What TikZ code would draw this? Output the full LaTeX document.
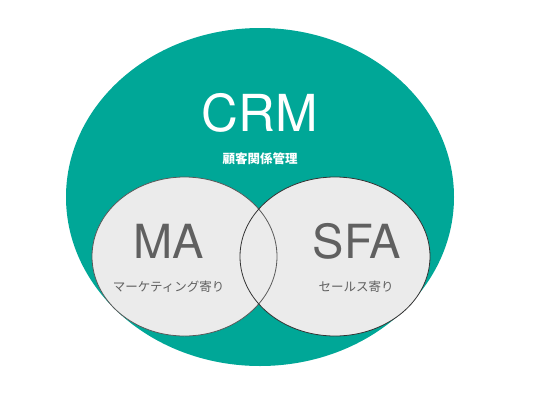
\documentclass[tikz,border=0pt]{standalone}
\usepackage{fontspec}
\setmainfont{TeX Gyre Heros}
\newfontfamily\jpfont{Noto Sans CJK JP}
\usetikzlibrary{shapes.geometric,positioning}

\definecolor{crmteal}{RGB}{0,167,151}
\definecolor{subgray}{RGB}{235,235,235}
\definecolor{labelgray}{RGB}{96,96,96}

\tikzset{
  sub/.style={ellipse, fill=subgray, inner sep=0pt, minimum width=#1},
  rim/.style={draw=black!80, line width=0.8pt},
  big/.style={font=\fontsize{47}{47}\selectfont, text=labelgray, inner sep=0pt},
  note/.style={font=\jpfont\fontsize{12.5}{13}\selectfont, text=labelgray, inner sep=0pt}
}

\begin{document}
\begin{tikzpicture}[x=1pt, y=-1pt]
\useasboundingbox (0,0) rectangle (533,402);

% outer set
\node[ellipse, fill=crmteal, inner sep=0pt, minimum width=388pt, minimum height=338pt] (crm) at (260,197) {};
\node[font=\fontsize{51}{51}\selectfont, text=white, inner sep=0pt] (crmtitle) at (260,112.5) {CRM};
\node[below = 20pt of crmtitle, font=\jpfont\bfseries\fontsize{12.5}{13}\selectfont, text=white, inner sep=0pt] (crmnote) {顧客関係管理};

% two inner sets
\node[sub=185pt, minimum height=159pt] (ma) at (184.5,256.5) {};
\node[sub=190pt, minimum height=159pt] (sfa) at (335,256.5) {};
\draw[rim, draw=black!65] (ma.center) ellipse [x radius=92.5pt, y radius=79.5pt];
\draw[rim] (sfa.center) ellipse [x radius=95pt, y radius=79.5pt];

\node[big] (malabel) at (169,241.5) {MA};
\node[note] (manote) at (168.5,287) {マーケティング寄り};
\node[big] (sfalabel) at (357,241.5) {SFA};
\node[note] (sfanote) at (356,287) {セールス寄り};
\end{tikzpicture}
\end{document}
